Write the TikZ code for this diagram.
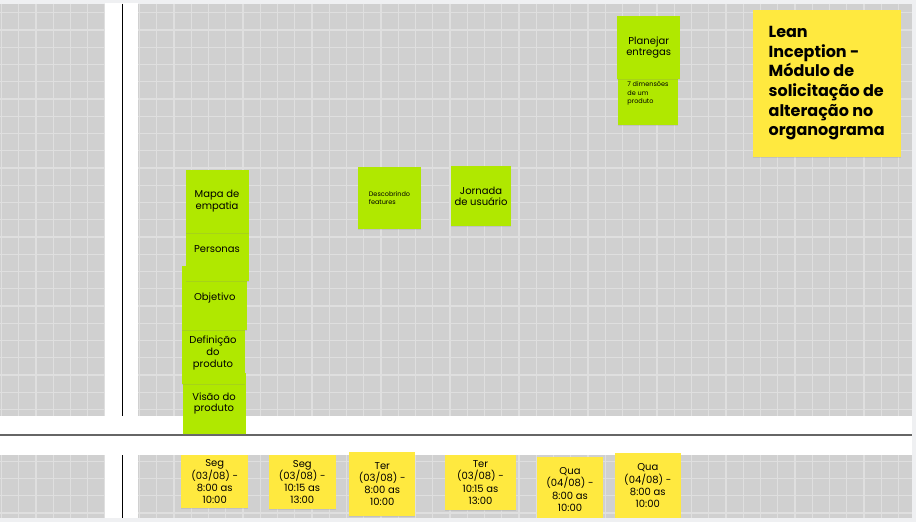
\documentclass[tikz,border=0pt]{standalone}
\usepackage{fontspec}
\setmainfont{Poppins}
\usetikzlibrary{shadows}
\definecolor{boardgray}{HTML}{D0D0D0}
\definecolor{gridgray}{HTML}{DFDFDF}
\definecolor{framegray}{HTML}{EFF0F2}
\definecolor{notegreen}{HTML}{B0E800}
\definecolor{noteyellow}{HTML}{FFE93F}
\definecolor{dividergray}{HTML}{666666}
\begin{document}
\begin{tikzpicture}
[x=1pt,y=-1pt,
  notedecorate/.style={shape=rectangle,inner sep=0pt,align=center,
    font=\fontsize{10}{11.7}\selectfont,
    drop shadow={shadow xshift=0pt,shadow yshift=-1pt,opacity=0.2}},
  greennote/.style={notedecorate,fill=notegreen},
  tinynote/.style={greennote,align=left,font=\fontsize{6.5}{8.3}\selectfont},
  yellownote/.style={notedecorate,fill=noteyellow,font=\fontsize{10}{12.3}\selectfont},
  titlenote/.style={yellownote,align=left,font=\bfseries\fontsize{16}{19.7}\selectfont},
  griddecorate/.style={gridgray,line width=1.3pt},
  linedecorate/.style={-,line width=1.3pt}]
\useasboundingbox (0,0) rectangle (916,522);
\fill[framegray] (0,0) rectangle (916,522);
\begin{scope}
\clip (0,3.5) rectangle (912,517.5);
%% board and grid
\fill[boardgray] (0,3.5) rectangle (912,517.5);
\foreach \k in {0,...,52} {
  \draw[griddecorate] (1.5+17.25*\k,3.5) -- ++(0,514);
}
\foreach \k in {0,...,29} {
  \draw[griddecorate] (0,12.7+17.25*\k) -- ++(912,0);
}
%% white lanes and dividers
\fill[white] (105,0) rectangle (138,522);
\fill[white] (0,416) rectangle (912,455);
\draw[linedecorate,black] (122.3,3.5) -- (122.3,416);
\draw[linedecorate,black] (122.3,455) -- (122.3,517.5);
\draw[linedecorate,dividergray,line width=2pt] (0,435) -- (912,435);
%% green notes, back to front
\foreach \notename/\notestyle/\x/\y/\w/\h/\content in {
  vision/greennote/214/403.5/63/61/{Visão do\\produto},
  definition/greennote/213/353/63/62/{Definição\\do\\produto},
  goal/greennote/214.8/298/65/64/{Objetivo},
  personas/greennote/217/249.5/63/63/{Personas},
  empathy/greennote/217/201.3/63/63/{Mapa de\\empatia},
  features/tinynote/389.5/198/62.4/62.6/{Descobrindo\\features},
  journey/greennote/481/196.3/60/60/{Jornada\\de usuário},
  dimensions/tinynote/648/93.5/60/63/{7 dimensões\\de um\\produto},
  delivery/greennote/648.7/47.5/63/63/{Planejar\\entregas}} {
  \node (\notename) at (\x,\y) [\notestyle,minimum width=\w,minimum height=\h] {\content};
}
%% yellow schedule notes
\foreach \notename/\x/\y/\w/\h/\content in {
  mon1/214.7/481.7/67.3/53.4/{Seg\\(03/08) -\\8:00 as\\10:00},
  mon2/302.3/482/66.7/54/{Seg\\(03/08) -\\10:15 as\\13:00},
  tue1/382.3/484/66/64.6/{Ter\\(03/08) -\\8:00 as\\10:00},
  tue2/480.5/482.5/71/55/{Ter\\(03/08) -\\10:15 as\\13:00},
  wed1/570/489.5/65.4/65.6/{Qua\\(04/08) -\\8:00 as\\10:00},
  wed2/647.8/485.8/65.7/65/{Qua\\(04/08) -\\8:00 as\\10:00}} {
  \node (\notename) at (\x,\y) [yellownote,minimum width=\w,minimum height=\h] {\content};
}
%% title note
\node (title) at (826.7,83.3) [titlenote,minimum width=148,minimum height=146.7]
  {Lean\\Inception -\\Módulo de\\solicitação de\\alteração no\\organograma};
\end{scope}
\end{tikzpicture}
\end{document}
